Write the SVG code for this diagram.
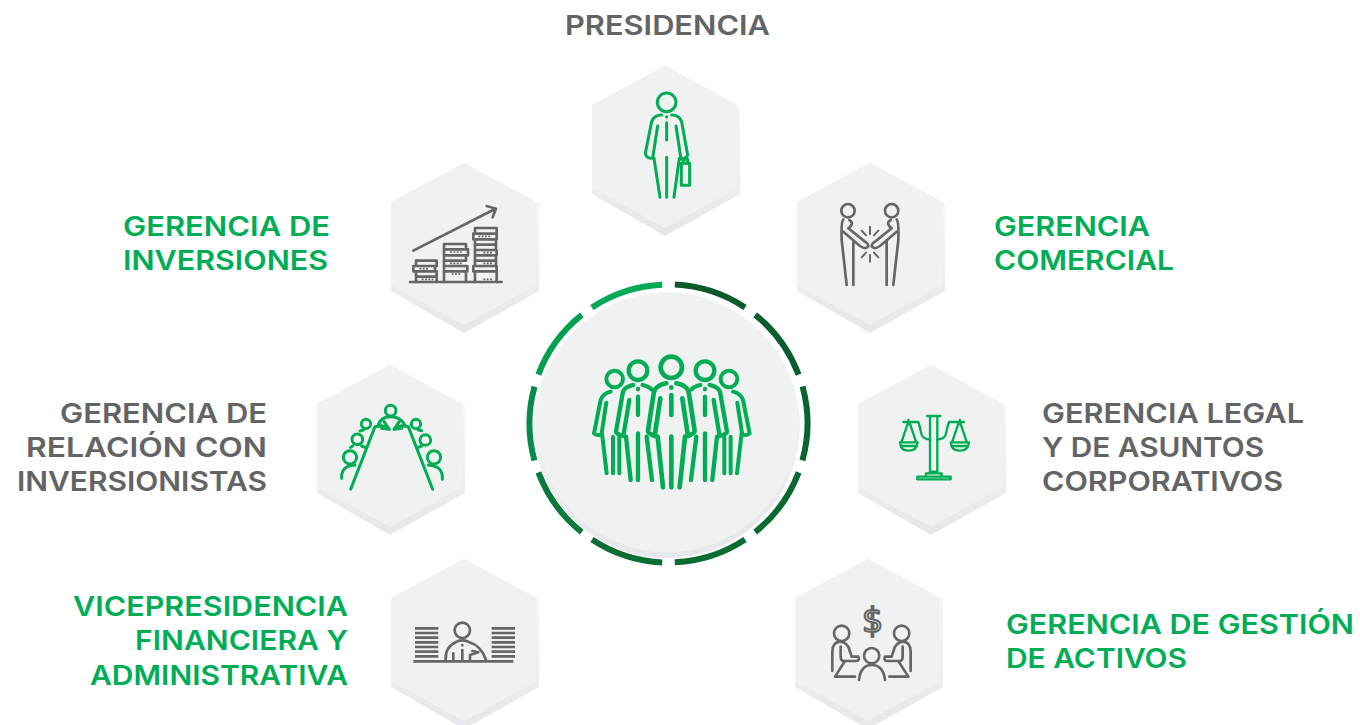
<svg xmlns="http://www.w3.org/2000/svg" xmlns:xlink="http://www.w3.org/1999/xlink" width="1360" height="725" viewBox="0 0 1360 725">
<style>
.t{font-family:Inter,"Liberation Sans",sans-serif;font-weight:600;font-size:27.5px}
.g{fill:#00ad57}.k{fill:#636466}
.ic{fill:none;stroke-linecap:round;stroke-linejoin:round}
.gs{stroke:#00ad54}.ks{stroke:#666666}
.seg{fill:none;stroke-width:6}
</style>
<defs>
<linearGradient id="bev" x1="0" y1="0" x2="0" y2="1"><stop offset="0" stop-color="#fbfbfb"/><stop offset="1" stop-color="#e5e7ea"/></linearGradient>
<g id="hex">
<polygon points="0,-85 75,-44 75,44 0,86 -73,44 -73,-45" fill="url(#bev)"/>
<polygon points="0,-84 72,-45 72,38 0,78 -73,38 -73,-45" fill="#f0f2f2"/>
</g>
<path id="arc" d="M6.3-138.9A139 139 0 0 1 76.5-116" class="seg"/>
<g id="man">
<circle cx="0" cy="-158" r="32" stroke-width="14"/>
<path d="M-15-110Q-45-105-52-85L-70 32Q-72 40-50 48L-33-65M15-110Q45-105 52-85L70 32Q72 40 50 48L33-65" stroke-width="14"/>
<path d="M-41 50L-25 202M0 50V202M41 50L25 202M0-98V-97M0-75V-15" stroke-width="14"/>
</g>
<g id="man2">
<circle cx="0" cy="-148" r="28" stroke-width="13"/>
<path d="M-14-105Q-38-100-45-85L-66 35Q-66 42-44 48L-26-60M14-105Q34-100 40-92" stroke-width="13"/>
<path d="M-36 50L-22 180M0 40V180M26 50L42 180M0-93V-92M0-70V-15" stroke-width="13"/>
</g>
<g id="man3">
<circle cx="0" cy="-123" r="25" stroke-width="12"/>
<path d="M-12-85Q-35-80-42-60L-62 40Q-60 45-40 46L-25-52" stroke-width="12"/>
<path d="M-38 40L-24 160M-5 50V160M14 50V160" stroke-width="12"/>
</g>
</defs>

<g id="node-presidencia">
<use xlink:href="#hex" href="#hex" x="665" y="150"/>
<g class="ic gs" stroke-width="9" transform="translate(580 60) scale(.3333)">
<circle cx="260" cy="127" r="28"/>
<path d="M245 165Q222 165 215 185L196 280Q198 295 218 295L233 198M275 165Q298 165 305 185L323 285Q320 295 303 297L288 198M222 295L240 412M260 292V412M298 295L282 412M260 170V171M260 188V240"/>
<path d="M304 310H329V376H304ZM310 310V298H323V310"/>
</g>
<text class="t k" x="565" y="35" textLength="205" lengthAdjust="spacingAndGlyphs">PRESIDENCIA</text>
</g>

<g id="node-inversiones">
<use xlink:href="#hex" href="#hex" x="464" y="247"/>
<g class="ic ks" stroke-width="8" transform="translate(380 160) scale(.3333)">
<path d="M100 272L345 147M320 138L348 146L338 172M90 366H365"/>
<path d="M108 302H170V318H108ZM100 318H165V334H100ZM108 334H170V350H108ZM108 350V366M170 350V366"/>
<path d="M192 252H258V268H192ZM192 268H264V286H192ZM192 286H258V302H192ZM192 302V318H262V334H192ZM192 334H258V366M192 334V366"/>
<path d="M285 204H350V221H285ZM280 221H350V238H280ZM285 238H348V254H285ZM285 254H348V270H285ZM285 270H350V286H285ZM285 286H348V302H285ZM280 318H350V334H280ZM285 302V318M348 302V318M285 334V366M350 334V366"/>
<path d="M118 326H145M125 358H160M210 276H245M210 310H245M215 342H245M295 229H330M310 278H340M310 310H340M310 358H340" stroke-width="5" stroke-dasharray="6 4" stroke-linecap="butt"/>
</g>
<text class="t g" x="123" y="236" textLength="207" lengthAdjust="spacingAndGlyphs">GERENCIA DE</text>
<text class="t g" x="123" y="270" textLength="205" lengthAdjust="spacingAndGlyphs">INVERSIONES</text>
</g>

<g id="node-comercial">
<use xlink:href="#hex" href="#hex" x="870" y="247"/>
<g class="ic ks" stroke-width="8" transform="translate(790 160) scale(.3333)">
<circle cx="174" cy="152" r="20"/><circle cx="305" cy="152" r="20"/>
<path d="M160 178Q153 185 155 240L170 375M190 375V245M178 180Q195 190 175 205L225 245Q240 255 232 262Q225 268 210 258L160 215"/>
<path d="M320 178Q327 185 325 240L310 375M290 375V245M302 180Q285 190 305 205L255 245Q240 255 248 262Q255 268 270 258L320 215"/>
<path d="M240 200V222M215 212L228 226M265 212L252 226M215 292L228 278M240 285V305M265 292L252 278" stroke-width="6"/>
</g>
<text class="t g" x="994" y="236" textLength="156" lengthAdjust="spacingAndGlyphs">GERENCIA</text>
<text class="t g" x="994" y="270" textLength="180" lengthAdjust="spacingAndGlyphs">COMERCIAL</text>
</g>

<g id="node-relacion">
<use xlink:href="#hex" href="#hex" x="390" y="449"/>
<g class="ic gs" stroke-width="9" transform="translate(310 360) scale(.3333)">
<path d="M122 388L195 200L215 197L238 208M368 388L295 200L275 197L252 208M222 185L238 208L215 205M268 185L252 208L275 205"/>
<path d="M205 195Q212 170 242 170Q272 170 285 195"/>
<circle cx="242" cy="152" r="16"/><circle cx="168" cy="192" r="14"/><circle cx="142" cy="238" r="16"/><circle cx="120" cy="292" r="20"/><circle cx="318" cy="192" r="14"/><circle cx="346" cy="240" r="16"/><circle cx="372" cy="292" r="20"/>
<path d="M95 355Q92 318 135 315M122 262L128 258M150 213L160 210M165 262L155 258M335 212L325 210M325 262L335 258M397 358Q400 318 355 315"/>
</g>
<text class="t k" x="60" y="423" textLength="207" lengthAdjust="spacingAndGlyphs">GERENCIA DE</text>
<text class="t k" x="26" y="457" textLength="241" lengthAdjust="spacingAndGlyphs">RELACIÓN CON</text>
<text class="t k" x="17" y="491" textLength="250" lengthAdjust="spacingAndGlyphs">INVERSIONISTAS</text>
</g>

<g id="node-legal">
<use xlink:href="#hex" href="#hex" x="931" y="449"/>
<g class="ic gs" stroke-width="7" transform="translate(850 360) scale(.3333)">
<path d="M231 168H271M240 168V335M262 168V335M240 335H262M228 348V340H275V348M202 358V350H302V358H202Z"/>
<path d="M160 186H205Q210 200 215 225Q222 238 240 238M342 186H297Q292 200 287 225Q280 238 262 238M175 186L155 245M178 186L198 245M327 186L307 245M330 186L350 245"/>
<path d="M150 247H203Q200 272 176 272Q152 272 150 247ZM158 258H195M302 247H357Q354 272 330 272Q304 272 302 247ZM310 258H348"/>
<path d="M175 180V186M330 180V186"/>
</g>
<text class="t k" x="1042" y="423" textLength="262" lengthAdjust="spacingAndGlyphs">GERENCIA LEGAL</text>
<text class="t k" x="1042" y="457" textLength="222" lengthAdjust="spacingAndGlyphs">Y DE ASUNTOS</text>
<text class="t k" x="1042" y="491" textLength="241" lengthAdjust="spacingAndGlyphs">CORPORATIVOS</text>
</g>

<g id="node-vicepresidencia">
<use xlink:href="#hex" href="#hex" x="464" y="643"/>
<g class="ic ks" stroke-width="8" transform="translate(385 555) scale(.3333)">
<path stroke-linecap="butt" d="M90 220H160M90 234H160M90 248H160M90 262H160M90 276H160M90 290H160M90 304H160M320 220H390M320 234H390M320 248H390M320 262H390M320 276H390M320 290H390M320 304H390M85 319H385"/>
<circle cx="232" cy="226" r="23"/>
<path d="M182 315Q180 275 215 260Q232 252 250 260Q290 272 303 315M205 315V295M232 270V271M232 285V315M255 315V300L280 292L262 288"/>
</g>
<text class="t g" x="73" y="616" textLength="275" lengthAdjust="spacingAndGlyphs">VICEPRESIDENCIA</text>
<text class="t g" x="135" y="650" textLength="213" lengthAdjust="spacingAndGlyphs">FINANCIERA Y</text>
<text class="t g" x="90" y="685" textLength="258" lengthAdjust="spacingAndGlyphs">ADMINISTRATIVA</text>
</g>

<g id="node-activos">
<use xlink:href="#hex" href="#hex" x="868" y="643"/>
<g class="ic ks" stroke-width="8" transform="translate(790 555) scale(.3333)">
<text x="248" y="232" text-anchor="middle" style="font-family:'DejaVu Sans',sans-serif;font-size:100px" stroke-width="6">$</text>
<circle cx="155" cy="235" r="23"/><circle cx="335" cy="235" r="23"/><circle cx="245" cy="302" r="23"/>
<path d="M127 348V290Q127 262 150 260Q175 262 180 290L185 305H205Q210 315 200 318H160Q152 316 152 305V275M165 318L135 365H195"/>
<path d="M362 348V290Q362 262 340 260Q315 262 310 290L305 305H285Q280 315 290 318H330Q338 316 338 305V275M325 318L355 365H298"/>
<path d="M207 375Q212 330 245 330Q280 330 285 375"/>
</g>
<text class="t g" x="1006" y="634" textLength="348" lengthAdjust="spacingAndGlyphs">GERENCIA DE GESTIÓN</text>
<text class="t g" x="1006" y="668" textLength="181" lengthAdjust="spacingAndGlyphs">DE ACTIVOS</text>
</g>

<g id="node-centro">
<circle cx="667" cy="425" r="133" fill="url(#bev)"/>
<circle cx="667" cy="422.5" r="130" fill="#f0f2f2"/>
<g transform="translate(668.5 423.5)">
<use xlink:href="#arc" href="#arc" stroke="#0a5a2c"/>
<use xlink:href="#arc" href="#arc" stroke="#0a5e2e" transform="rotate(36)"/>
<use xlink:href="#arc" href="#arc" stroke="#0b6430" transform="rotate(72)"/>
<use xlink:href="#arc" href="#arc" stroke="#0b6830" transform="rotate(108)"/>
<use xlink:href="#arc" href="#arc" stroke="#0b6c32" transform="rotate(144)"/>
<use xlink:href="#arc" href="#arc" stroke="#0b6e34" transform="rotate(180)"/>
<use xlink:href="#arc" href="#arc" stroke="#0a7a3c" transform="rotate(216)"/>
<use xlink:href="#arc" href="#arc" stroke="#068c46" transform="rotate(252)"/>
<use xlink:href="#arc" href="#arc" stroke="#03a04f" transform="rotate(288)"/>
<use xlink:href="#arc" href="#arc" stroke="#00aa56" transform="rotate(324)"/>
</g>
<g class="ic gs" transform="translate(520 270) scale(.3333)">
<use xlink:href="#man3" href="#man3" transform="translate(284 450)"/>
<use xlink:href="#man3" href="#man3" transform="translate(627 450) scale(-1 1)"/>
<use xlink:href="#man2" href="#man2" transform="translate(354 450)"/>
<use xlink:href="#man2" href="#man2" transform="translate(555 450) scale(-1 1)"/>
<use xlink:href="#man" href="#man" transform="translate(454 450)"/>
</g>
</g>
</svg>
